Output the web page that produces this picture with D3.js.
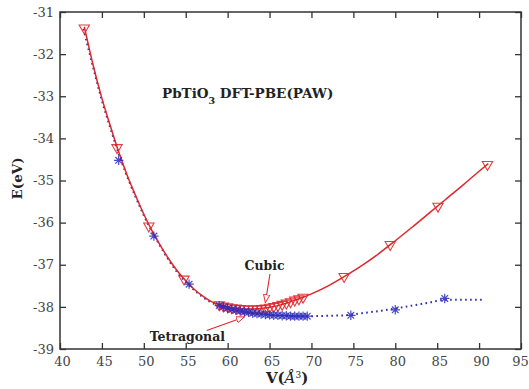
<!DOCTYPE html>
<html><head><meta charset="utf-8">
<script src="https://cdn.jsdelivr.net/npm/d3@7"></script>
<style>
html,body{margin:0;padding:0;background:#fff;}
svg{display:block;}
</style></head>
<body><svg id="c" width="529" height="389"></svg>
<script>
// ---- data ----
const xTicks = [40,45,50,55,60,65,70,75,80,85,90,95];
const yTicks = [-39,-38,-37,-36,-35,-34,-33,-32,-31];

// Cubic: computed points (down triangles)
const cubicV = [42.9,46.8,50.6,54.8,59,59.5,60,60.5,61,61.5,62,62.5,63,63.5,64,64.5,65,65.5,66,66.5,67,67.5,68,68.5,69,73.9,79.4,85.1,91.0];
const cubicE = [-31.38,-34.22,-36.08,-37.34,-37.95,-37.98,-38.0,-38.02,-38.03,-38.04,-38.05,-38.05,-38.05,-38.05,-38.04,-38.03,-38.01,-37.99,-37.97,-37.94,-37.91,-37.88,-37.84,-37.81,-37.77,-37.28,-36.52,-35.61,-34.62];
// Cubic: fitted curve
const cubicFitV = [42.9,44,45,46,47,48,49,50,51,52,53,54,55,56,57,58,59,60,61,62,63,64,65,66,67,68,69,70,72,74,76,78,80,82,84,86,88,90,91.1];
const cubicFitE = [-31.35,-32.3,-33.05,-33.7,-34.32,-34.87,-35.35,-35.8,-36.2,-36.55,-36.87,-37.15,-37.38,-37.58,-37.74,-37.87,-37.95,-38.0,-38.03,-38.05,-38.05,-38.04,-38.01,-37.97,-37.91,-37.84,-37.77,-37.69,-37.5,-37.27,-37.02,-36.74,-36.43,-36.11,-35.78,-35.45,-35.12,-34.78,-34.6];

// Tetragonal: computed points (stars)
const tetraV = [47.0,51.2,55.4,59,59.5,60,60.5,61,61.5,62,62.5,63,63.5,64,64.5,65,65.5,66,66.5,67,67.5,68,68.5,69,69.5,74.7,80.0,85.9];
const tetraE = [-34.52,-36.32,-37.46,-37.97,-38.0,-38.03,-38.06,-38.08,-38.1,-38.12,-38.13,-38.15,-38.16,-38.17,-38.18,-38.19,-38.2,-38.2,-38.21,-38.21,-38.22,-38.22,-38.22,-38.22,-38.22,-38.2,-38.07,-37.8];
// Tetragonal: fitted curve (dotted)
const tetraFitV = [42.8,44,45,46,47,48,49,50,51,52,53,54,55,56,57,58,59,60,61,62,63,64,65,66,67,68,69,70,72,74,76,78,80,82,84,86,88,90.7];
const tetraFitE = [-31.4,-32.35,-33.1,-33.75,-34.36,-34.9,-35.38,-35.83,-36.22,-36.57,-36.9,-37.18,-37.41,-37.6,-37.76,-37.89,-37.98,-38.04,-38.09,-38.12,-38.15,-38.17,-38.19,-38.2,-38.21,-38.22,-38.22,-38.22,-38.21,-38.2,-38.15,-38.1,-38.04,-37.97,-37.9,-37.83,-37.83,-37.83];

// ---- chart ----
const W = 529, H = 389;
const m = {l:60, r:8, t:12, b:40};
const svg = d3.select("#c");
const x = d3.scaleLinear().domain([40,95]).range([m.l, W-m.r]);
const y = d3.scaleLinear().domain([-39,-31]).range([H-m.b, m.t]);

const red = "#e0262b", blue = "#2a2ab8", axisCol = "#333";
const SERIF = "'DejaVu Serif', 'Liberation Serif', 'Noto Serif', serif";

svg.append("defs").append("clipPath").attr("id","clip")
  .append("rect").attr("x",m.l).attr("y",m.t).attr("width",W-m.l-m.r).attr("height",H-m.t-m.b);
const defs = svg.select("defs");
defs.append("marker").attr("id","ah").attr("viewBox","0 0 10 10").attr("refX",9).attr("refY",5)
  .attr("markerWidth",9).attr("markerHeight",9).attr("orient","auto").attr("markerUnits","userSpaceOnUse")
  .append("path").attr("d","M0,1.5 L9,5 L0,8.5 Z").attr("fill","#fff").attr("stroke",red).attr("stroke-width",1);

// axes (ticks inward, on all four sides)
const fmt = d => String(d);
const axB = svg.append("g").attr("transform",`translate(0,${H-m.b})`)
  .call(d3.axisBottom(x).tickValues(xTicks).tickSizeInner(-6).tickSizeOuter(0).tickPadding(8).tickFormat(fmt));
const axT = svg.append("g").attr("transform",`translate(0,${m.t})`)
  .call(d3.axisTop(x).tickValues(xTicks).tickSizeInner(-6).tickSizeOuter(0).tickFormat(""));
const axL = svg.append("g").attr("transform",`translate(${m.l},0)`)
  .call(d3.axisLeft(y).tickValues(yTicks).tickSizeInner(-6).tickSizeOuter(0).tickPadding(6).tickFormat(fmt));
const axR = svg.append("g").attr("transform",`translate(${W-m.r},0)`)
  .call(d3.axisRight(y).tickValues(yTicks).tickSizeInner(-6).tickSizeOuter(0).tickFormat(""));
[axB,axT,axL,axR].forEach(a=>{
  a.select(".domain").remove();
  a.selectAll(".tick line").attr("stroke",axisCol).attr("stroke-width",1.3);
  a.selectAll(".tick text").attr("font-size",13).attr("fill","#444");
});
axB.selectAll(".tick text").attr("dx",d=>d===95?-1:2);
svg.append("rect").attr("x",m.l).attr("y",m.t).attr("width",W-m.l-m.r).attr("height",H-m.t-m.b)
  .attr("fill","none").attr("stroke",axisCol).attr("stroke-width",1.5);

const plot = svg.append("g").attr("clip-path","url(#clip)");
const line = d3.line().x(d=>x(d[0])).y(d=>y(d[1])).curve(d3.curveMonotoneX);

plot.append("path").datum(d3.zip(tetraFitV,tetraFitE)).attr("d",line)
  .attr("fill","none").attr("stroke",blue).attr("stroke-width",2).attr("stroke-dasharray","1.6,3.4");
plot.append("path").datum(d3.zip(cubicFitV,cubicFitE)).attr("d",line)
  .attr("fill","none").attr("stroke",red).attr("stroke-width",1.5);

const tri = d3.symbol().type(d3.symbolTriangle).size(46);
plot.append("g").selectAll("path").data(d3.zip(cubicV,cubicE)).join("path")
  .attr("d",tri).attr("transform",d=>`translate(${x(d[0])},${y(d[1])}) rotate(180)`)
  .attr("fill","none").attr("stroke",red).attr("stroke-width",1.1).attr("opacity",0.9);

function star(r){
  const a = r*0.7071;
  return `M${-r},0L${r},0M0,${-r}L0,${r}M${-a},${-a}L${a},${a}M${-a},${a}L${a},${-a}`;
}
plot.append("g").selectAll("path").data(d3.zip(tetraV,tetraE)).join("path")
  .attr("d",star(4.7)).attr("transform",d=>`translate(${x(d[0])},${y(d[1])})`)
  .attr("fill","none").attr("stroke",blue).attr("stroke-width",1.2).attr("opacity",0.85);

// annotations
svg.append("text").attr("x",162).attr("y",y(-33.05)).attr("font-weight","bold").attr("font-size",13.5)
  .html('PbTiO<tspan baseline-shift="sub" font-size="9.5">3</tspan> DFT-PBE(PAW)');
svg.append("text").attr("x",x(64.4)).attr("y",y(-37.13)).attr("text-anchor","middle")
  .attr("font-weight","bold").attr("font-size",12.5).text("Cubic");
svg.append("line").attr("x1",x(65.05)).attr("y1",y(-37.22)).attr("x2",x(64.5)).attr("y2",y(-37.9))
  .attr("stroke",red).attr("stroke-width",1.1).attr("marker-end","url(#ah)");
svg.append("text").attr("x",x(55.2)).attr("y",y(-38.8)).attr("text-anchor","middle")
  .attr("font-weight","bold").attr("font-size",12.5).text("Tetragonal");
svg.append("line").attr("x1",x(57.5)).attr("y1",y(-38.56)).attr("x2",x(62.0)).attr("y2",y(-38.24))
  .attr("stroke",red).attr("stroke-width",1.1).attr("marker-end","url(#ah)");

svg.append("text").attr("transform",`translate(22,${y(-34.95)}) rotate(-90)`).attr("text-anchor","middle")
  .attr("font-weight","bold").attr("font-size",13.5).text("E(eV)");
svg.append("text").attr("x",x(67.1)).attr("y",383).attr("text-anchor","middle")
  .attr("font-weight","bold").attr("font-size",15)
  .html('V(<tspan font-style="italic" font-weight="normal">Å</tspan><tspan baseline-shift="super" font-size="9" font-weight="normal">3</tspan>)');

svg.selectAll("text").attr("font-family",SERIF).style("font-family",SERIF);
svg.selectAll("text:not(.tick text)").attr("fill","#222");
</script></body></html>
